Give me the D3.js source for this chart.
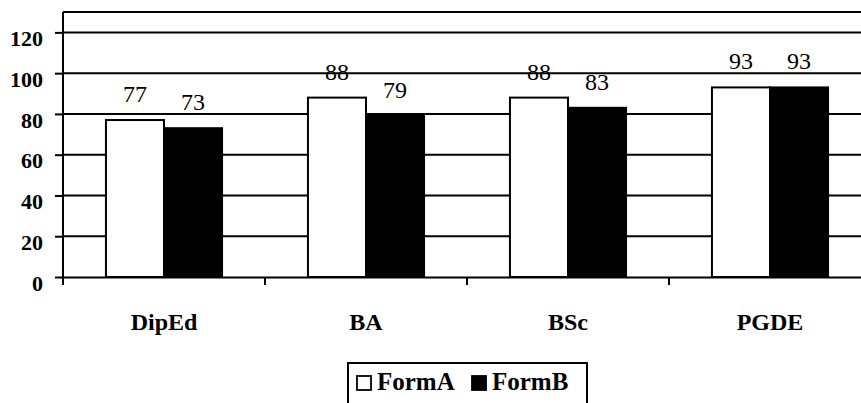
<!DOCTYPE html>
<html><head><meta charset="utf-8">
<script src="https://cdn.jsdelivr.net/npm/d3@7/dist/d3.min.js"></script>
<style>body{margin:0;background:#fff;}svg{display:block;}</style>
</head><body>
<svg id="c" width="861" height="403"></svg>
<script>
const categories = ["DipEd", "BA", "BSc", "PGDE"];
const seriesNames = ["FormA", "FormB"];
const formA = [77, 88, 88, 93];
const formB = [73, 79, 83, 93];
const yTicks = [0, 20, 40, 60, 80, 100, 120];

(function () {
const svg = d3.select("#c");
const serif = "Liberation Serif";
const pLeft = 63, pRight = 871, pTop = 12, pBottom = 277;

const x = d3.scaleBand().domain(categories).range([pLeft, pRight]).paddingInner(0).paddingOuter(0);
const y = d3.scaleLinear().domain([0, 130]).range([pBottom, pTop]);
const xs = d3.scaleBand().domain(seriesNames).range([0, x.bandwidth()]).paddingInner(0).paddingOuter(0.74);

const data = categories.map((c, i) => ({c, vals: [{s: "FormA", v: formA[i]}, {s: "FormB", v: formB[i]}]}));

// gridlines
svg.append("g").selectAll("line").data(yTicks.filter(d => d > 0)).join("line")
  .attr("x1", pLeft).attr("x2", pRight).attr("y1", d => y(d)).attr("y2", d => y(d))
  .attr("stroke", "#000").attr("stroke-width", 2);

// plot frame top
svg.append("line").attr("x1", pLeft).attr("x2", pRight).attr("y1", pTop).attr("y2", pTop)
  .attr("stroke", "#000").attr("stroke-width", 2);

// bars
const groups = svg.append("g").selectAll("g").data(data).join("g")
  .attr("transform", d => `translate(${x(d.c)},0)`);
groups.selectAll("rect").data(d => d.vals).join("rect")
  .attr("x", d => xs(d.s)).attr("width", xs.bandwidth())
  .attr("y", d => y(d.v)).attr("height", d => y(0) - y(d.v))
  .attr("fill", d => d.s === "FormA" ? "#fff" : "#000")
  .attr("stroke", "#000").attr("stroke-width", 2);
groups.selectAll("text").data(d => d.vals).join("text")
  .attr("x", d => xs(d.s) + xs.bandwidth() / 2).attr("y", d => y(d.v) - 18)
  .attr("text-anchor", "middle").attr("font-family", serif).attr("font-size", 24)
  .attr("fill", "#000").text(d => d.v);

// y axis
const yAxis = svg.append("g").attr("transform", `translate(${pLeft},0)`)
  .call(d3.axisLeft(y).tickValues(yTicks).tickSize(8).tickPadding(12))
  .attr("font-family", serif).attr("font-size", 22).attr("font-weight", "bold");
yAxis.select(".domain").attr("stroke-width", 2).attr("d", `M0,${pTop}V${pBottom + 8}`);
yAxis.selectAll(".tick line").attr("stroke-width", 2);
yAxis.selectAll(".tick text").attr("fill", "#000").attr("dy", "0.6em");

// x axis
const xAxis = svg.append("g").attr("transform", `translate(0,${pBottom})`)
  .call(d3.axisBottom(x).tickSize(0).tickPadding(36))
  .attr("font-family", serif).attr("font-size", 24).attr("font-weight", "bold");
xAxis.select(".domain").attr("stroke-width", 2);
xAxis.selectAll(".tick text").attr("fill", "#000");
// category separator ticks
svg.append("g").selectAll("line").data(categories).join("line")
  .attr("x1", d => x(d)).attr("x2", d => x(d)).attr("y1", pBottom).attr("y2", pBottom + 8)
  .attr("stroke", "#000").attr("stroke-width", 2);

// legend
const lg = svg.append("g");
lg.append("rect").attr("x", 348).attr("y", 363).attr("width", 239).attr("height", 50)
  .attr("fill", "#fff").attr("stroke", "#000").attr("stroke-width", 2);
const items = [{s: "FormA", fill: "#fff", x: 357}, {s: "FormB", fill: "#000", x: 472}];
const li = lg.selectAll("g").data(items).join("g");
li.append("rect").attr("x", d => d.x).attr("y", 376).attr("width", 14).attr("height", 14)
  .attr("fill", d => d.fill).attr("stroke", "#000").attr("stroke-width", 1.8);
li.append("text").attr("x", d => d.x + 20).attr("y", 390)
  .attr("font-family", serif).attr("font-size", 25).attr("font-weight", "bold")
  .attr("fill", "#000").text(d => d.s);
})();
</script>
</body></html>
